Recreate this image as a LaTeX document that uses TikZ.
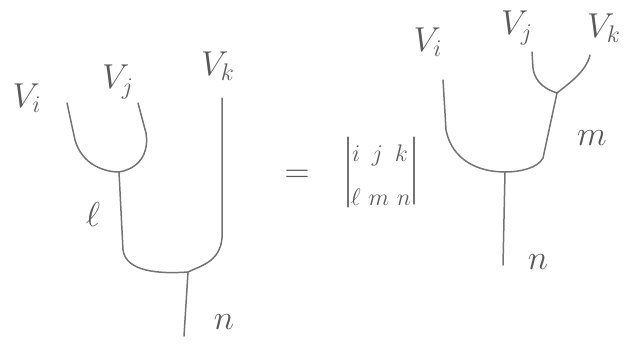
\documentclass[tikz,border=0pt]{standalone}
\usepackage{amsmath}
\usepackage{tikz}
\usetikzlibrary{positioning}

\tikzset{
  leg/.style={draw=black!55, line width=0.75pt, line cap=round},
  lbl/.style={text=black!65, font=\fontsize{17}{19}\selectfont, inner sep=0pt},
  row/.style={text=black!65, font=\fontsize{12}{14}\selectfont, inner sep=0pt}
}

\begin{document}
\begin{tikzpicture}[x=0.5pt, y=-0.5pt]
  \useasboundingbox (0,0) rectangle (636,345);

  % left tree: (V_i V_j) first, then V_k
  \coordinate (ia) at (67,103);
  \coordinate (ja) at (138,103);
  \coordinate (ka) at (222,98);
  \coordinate (va) at (119,172);
  \coordinate (vb) at (188,272);
  \coordinate (na) at (184,336);

  \draw[leg] (ia) -- (75,140) .. controls (82,165) and (105,172) .. (va);
  \draw[leg] (ja) -- (146,133) .. controls (150,160) and (132,170) .. (va);
  \draw[leg] (va) -- (123,250) .. controls (126,272) and (160,274) .. (vb);
  \draw[leg] (ka) -- (222,238) .. controls (220,262) and (200,266) .. (vb);
  \draw[leg] (vb) -- (na);

  \node[lbl] (Via) at (27,98) {$V_{i}$};
  \node[lbl] (Vja) at (118,82) {$V_{j}$};
  \node[lbl] (Vka) at (218,66) {$V_{k}$};
  \node[lbl] (la) at (93,214) {$\ell$};
  \node[lbl] (nla) at (224,322) {$n$};

  % equals sign and 6j symbol
  \node[lbl] (eq) at (297,176) {$=$};
  \node[row] (rowa) at (380,155) {$i\ \,j\ \,k$};
  \node[row] (rowb) at (381,197) {$\ell\ m\ n$};
  \draw[leg, line width=0.6pt] (348,137) -- (348,207);
  \draw[leg, line width=0.6pt] (414,137) -- (414,204);

  % right tree: (V_j V_k) first, then V_i
  \coordinate (ib) at (443,80);
  \coordinate (jb) at (532,52);
  \coordinate (kb) at (590,55);
  \coordinate (vc) at (557,93);
  \coordinate (vd) at (505,172);
  \coordinate (nb) at (503,265);

  \draw[leg] (jb) -- (533,68) .. controls (535,84) and (548,90) .. (vc);
  \draw[leg] (kb) .. controls (586,72) and (568,84) .. (vc);
  \draw[leg] (vc) -- (543,158) .. controls (538,168) and (520,172) .. (vd);
  \draw[leg] (ib) -- (446,130) .. controls (452,160) and (478,172) .. (vd);
  \draw[leg] (vd) -- (nb);

  \node[lbl] (Vib) at (428,42) {$V_{i}$};
  \node[lbl] (Vjb) at (517,28) {$V_{j}$};
  \node[lbl] (Vkb) at (604,28) {$V_{k}$};
  \node[lbl] (mb) at (592,138) {$m$};
  \node[lbl] (nlb) at (538,262) {$n$};
\end{tikzpicture}
\end{document}
